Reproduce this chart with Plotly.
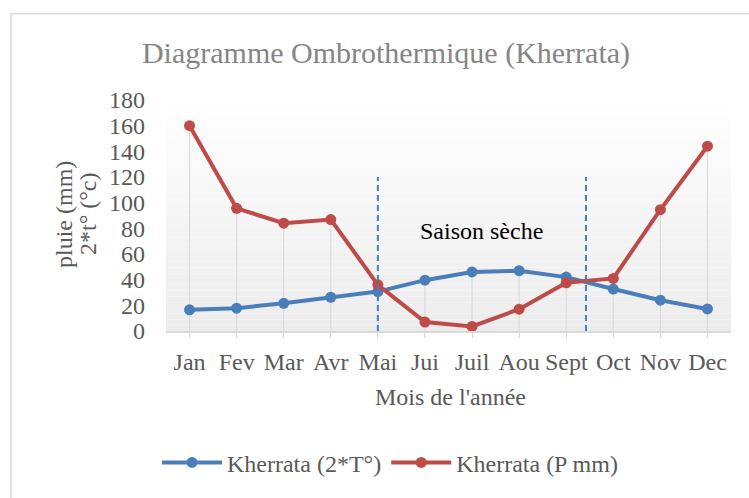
import plotly.graph_objects as go

# Monthly climate data for Kherrata
months = ["Jan", "Fev", "Mar", "Avr", "Mai", "Jui", "Juil", "Aou", "Sept", "Oct", "Nov", "Dec"]
temp_x2 = [16.5, 17.8, 21.6, 26.3, 30.7, 39.6, 46.0, 47.0, 42.0, 32.7, 24.0, 17.2]
rain_mm = [160.0, 95.6, 84.0, 86.8, 36.0, 7.0, 3.6, 17.0, 37.6, 41.0, 94.5, 144.0]

# Dry season limits (category positions) and label
dry_bounds = [4.0, 8.42]
dry_top = 120
dry_label = "Saison sèche"
dry_label_pos = (6.2, 78)

FONT = "Liberation Serif, Times New Roman, serif"
TXT = "#595959"
BLUE = "#4a7ebb"
RED = "#be4b48"

W, H = 749, 498
L, R, T, B = 166, 18, 100, 165
PW, PH = W - L - R, H - T - B


def px_to_paper_x(px):
    return (px - L) / PW


def px_to_paper_y(py):
    return (H - B - py) / PH


fig = go.Figure()

# Drop lines from the higher point of each month down to the axis
drop_x, drop_y = [], []
for i, m in enumerate(months):
    drop_x += [m, m, None]
    drop_y += [0, max(temp_x2[i], rain_mm[i]), None]
fig.add_trace(go.Scatter(
    x=drop_x, y=drop_y, mode="lines",
    line=dict(color="#dadada", width=1.2),
    hoverinfo="skip", showlegend=False,
))

fig.add_trace(go.Scatter(
    x=months, y=temp_x2, mode="lines+markers", name="Kherrata (2*T°)",
    line=dict(color=BLUE, width=4), marker=dict(size=11, color=BLUE),
))
fig.add_trace(go.Scatter(
    x=months, y=rain_mm, mode="lines+markers", name="Kherrata (P mm)",
    line=dict(color=RED, width=4), marker=dict(size=11, color=RED),
))

shapes = []
# Soft vertical gradient in the plot area (white at top, light grey at bottom)
n = 40
for k in range(n):
    f = k / n
    shade = int(round(236 + (255 - 236) * (f + 0.5 / n)))
    shapes.append(dict(
        type="rect", xref="x domain", yref="y domain",
        x0=0, x1=1, y0=f, y1=(k + 1) / n,
        fillcolor=f"rgb({shade},{shade},{shade})", line=dict(width=0),
        layer="below",
    ))

# Dry season boundaries
for xb in dry_bounds:
    shapes.append(dict(
        type="line", xref="x", yref="y", x0=xb, x1=xb, y0=0, y1=dry_top,
        line=dict(color="#3f7fd0", width=2, dash="6px,4px"),
    ))

# Chart frame (top and left edges)
fx, fy = px_to_paper_x(11), px_to_paper_y(13)
shapes.append(dict(type="line", xref="paper", yref="paper",
                   x0=fx, x1=px_to_paper_x(760), y0=fy, y1=fy,
                   line=dict(color="#d9d9d9", width=1.5)))
shapes.append(dict(type="line", xref="paper", yref="paper",
                   x0=fx, x1=fx, y0=fy, y1=px_to_paper_y(510),
                   line=dict(color="#d9d9d9", width=1.5)))

annotations = [
    dict(text=dry_label, x=dry_label_pos[0], y=dry_label_pos[1], xref="x", yref="y",
         showarrow=False, font=dict(family=FONT, size=24, color="#000000")),
    dict(text="Mois de l'année", xref="paper", yref="paper",
         x=px_to_paper_x(450), y=px_to_paper_y(400), showarrow=False,
         xanchor="center", yanchor="middle",
         font=dict(family=FONT, size=24, color=TXT)),
    dict(text="pluie (mm)", xref="paper", yref="paper",
         x=px_to_paper_x(64), y=px_to_paper_y(216), showarrow=False,
         textangle=-90, xanchor="center", yanchor="middle",
         font=dict(family=FONT, size=24, color=TXT)),
    dict(text="2*t° (°c)", xref="paper", yref="paper",
         x=px_to_paper_x(88), y=px_to_paper_y(215), showarrow=False,
         textangle=-90, xanchor="center", yanchor="middle",
         font=dict(family=FONT, size=24, color=TXT)),
]

fig.update_layout(
    width=W, height=H,
    margin=dict(l=L, r=R, t=T, b=B),
    font=dict(family=FONT, size=24, color=TXT),
    paper_bgcolor="white", plot_bgcolor="white",
    title=dict(text="Diagramme Ombrothermique (Kherrata)",
               x=386 / W, xanchor="center",
               y=1 - 52 / H, yanchor="middle",
               font=dict(family=FONT, size=30, color="#858585")),
    shapes=shapes, annotations=annotations,
    legend=dict(orientation="h", xref="paper", yref="paper",
                x=px_to_paper_x(390), y=px_to_paper_y(466),
                xanchor="center", yanchor="middle",
                font=dict(family=FONT, size=24, color=TXT),
                bgcolor="rgba(0,0,0,0)", itemwidth=60),
    showlegend=True,
)

fig.update_xaxes(
    type="category", range=[-0.5, 11.5], showgrid=False,
    showline=True, linecolor="#d9d9d9", linewidth=1.5,
    ticks="outside", ticklen=5, tickcolor="#d9d9d9",
    tickfont=dict(family=FONT, size=24, color=TXT), ticklabelstandoff=3,
    zeroline=False,
)
fig.update_yaxes(
    range=[0, 180], dtick=20, showgrid=False, showline=False, zeroline=False,
    tickfont=dict(family=FONT, size=24, color=TXT), ticklabelstandoff=20,
)

fig.write_html("out.html")
